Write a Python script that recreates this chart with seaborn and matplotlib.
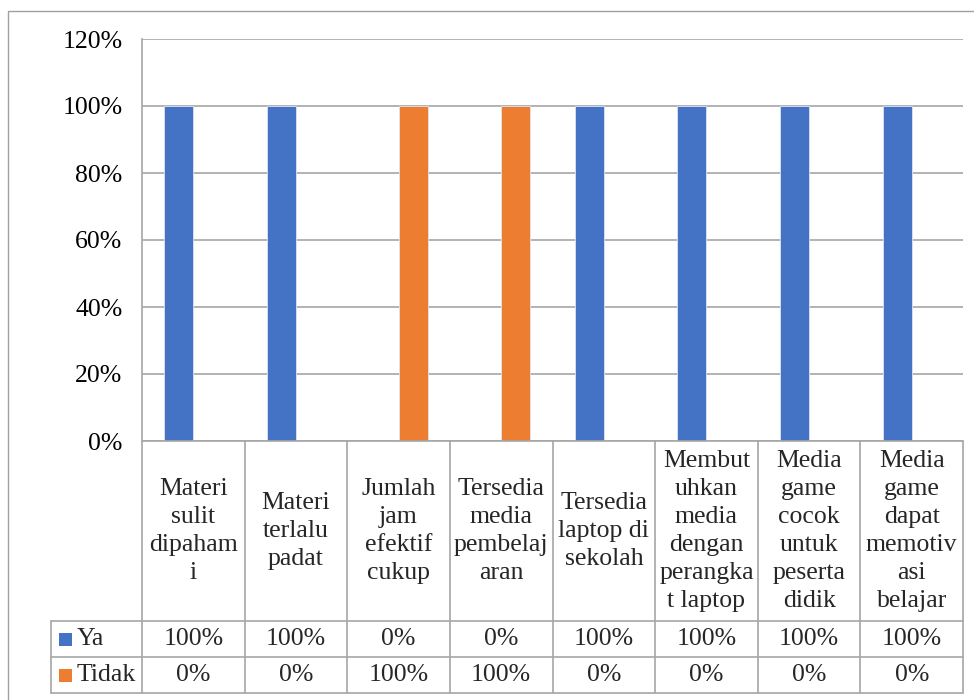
import matplotlib
matplotlib.use("Agg")
import matplotlib.pyplot as plt
import matplotlib.transforms as mtransforms
from matplotlib.patches import Rectangle
import pandas as pd
import seaborn as sns

# Survey items and responses (percent of respondents)
categories = [
    "Materi sulit dipahami",
    "Materi terlalu padat",
    "Jumlah jam efektif cukup",
    "Tersedia media pembelajaran",
    "Tersedia laptop di sekolah",
    "Membutuhkan media dengan perangkat laptop",
    "Media game cocok untuk peserta didik",
    "Media game dapat memotivasi belajar",
]
header_labels = [
    "Materi\nsulit\ndipaham\ni",
    "Materi\nterlalu\npadat",
    "Jumlah\njam\nefektif\ncukup",
    "Tersedia\nmedia\npembelaj\naran",
    "Tersedia\nlaptop di\nsekolah",
    "Membut\nuhkan\nmedia\ndengan\nperangka\nt laptop",
    "Media\ngame\ncocok\nuntuk\npeserta\ndidik",
    "Media\ngame\ndapat\nmemotiv\nasi\nbelajar",
]
ya = [100, 100, 0, 0, 100, 100, 100, 100]
tidak = [0, 0, 100, 100, 0, 0, 0, 0]
series_names = ["Ya", "Tidak"]
y_ticks = [0, 20, 40, 60, 80, 100, 120]

colors = {"Ya": "#4472C4", "Tidak": "#ED7D31"}
grid_color = "#A6A6A6"

df = pd.DataFrame({
    "item": categories * 2,
    "respon": ["Ya"] * len(categories) + ["Tidak"] * len(categories),
    "nilai": ya + tidak,
})

sns.set_theme(style="white")
plt.rcParams["font.family"] = ["Liberation Serif", "DejaVu Serif"]

W, H = 974, 700
fig = plt.figure(figsize=(W / 100, H / 100), dpi=100)

# Outer chart border
fig.patches.append(Rectangle((8 / W, 0 - 0.01), 1.05, (H - 11) / H + 0.01,
                             transform=fig.transFigure, fill=False,
                             edgecolor="#A0A0A0", lw=1.0))

left, right, top, bottom = 142, 963, 39, 441
ax = fig.add_axes([left / W, (H - bottom) / H, (right - left) / W, (bottom - top) / H])

sns.barplot(data=df, x="item", y="nilai", hue="respon", order=categories,
            hue_order=series_names, palette=colors, saturation=1,
            width=0.565, gap=0, edgecolor="#DDE4F2", linewidth=0.6,
            legend=False, ax=ax, zorder=3)

ax.set_xlim(-0.5, len(categories) - 0.5)
ax.set_ylim(0, 120)
ax.set_yticks(y_ticks)
ax.set_yticklabels([f"{t}%" for t in y_ticks], fontsize=18.5, color="black")
ax.tick_params(axis="y", length=0, pad=14)
ax.set_xticks([])
ax.set_xlabel("")
ax.set_ylabel("")
ax.yaxis.grid(True, color=grid_color, lw=1.2, zorder=0)
for side in ["top", "right", "bottom"]:
    ax.spines[side].set_visible(False)
ax.spines["left"].set_color(grid_color)
ax.spines["left"].set_linewidth(1.2)

# Data table under the plot: x in data units, y in axes units
tr = mtransforms.blended_transform_factory(ax.transData, ax.transAxes)
ax_h = bottom - top
row_header = -(621 - bottom) / ax_h
row_ya = -(657 - bottom) / ax_h
row_tidak = -(693 - bottom) / ax_h
leg_left = -0.5 - (left - 51) / ((right - left) / len(categories))
x_end = len(categories) - 0.5

line_kw = dict(color=grid_color, lw=1.2, transform=tr, clip_on=False, zorder=4)
ax.plot([-0.5, x_end], [0, 0], **line_kw)
for y in (row_header, row_ya, row_tidak):
    ax.plot([leg_left, x_end], [y, y], **line_kw)
for i in range(len(categories) + 1):
    ax.plot([i - 0.5, i - 0.5], [0, row_tidak], **line_kw)
ax.plot([leg_left, leg_left], [row_header, row_tidak], **line_kw)

for i, lab in enumerate(header_labels):
    ax.text(i, row_header / 2, lab, transform=tr, ha="center", va="center",
            multialignment="center", fontsize=18.5, linespacing=1.36,
            clip_on=False)

rows = [(series_names[0], ya, row_header, row_ya),
        (series_names[1], tidak, row_ya, row_tidak)]
for name, vals, y0, y1 in rows:
    yc = (y0 + y1) / 2
    for i, v in enumerate(vals):
        ax.text(i, yc, f"{v}%", transform=tr, ha="center", va="center",
                fontsize=18.5, clip_on=False)
    # legend key and series name
    key_x = leg_left + 8 / 102.6
    ax.add_patch(Rectangle((key_x, yc - 6.5 / ax_h), 13 / 102.6, 13 / ax_h,
                           transform=tr, facecolor=colors[name],
                           edgecolor="none", clip_on=False))
    ax.text(key_x + 18 / 102.6, yc, name, transform=tr, ha="left",
            va="center", fontsize=18.5, clip_on=False)

fig.savefig("out.png", dpi=100)
